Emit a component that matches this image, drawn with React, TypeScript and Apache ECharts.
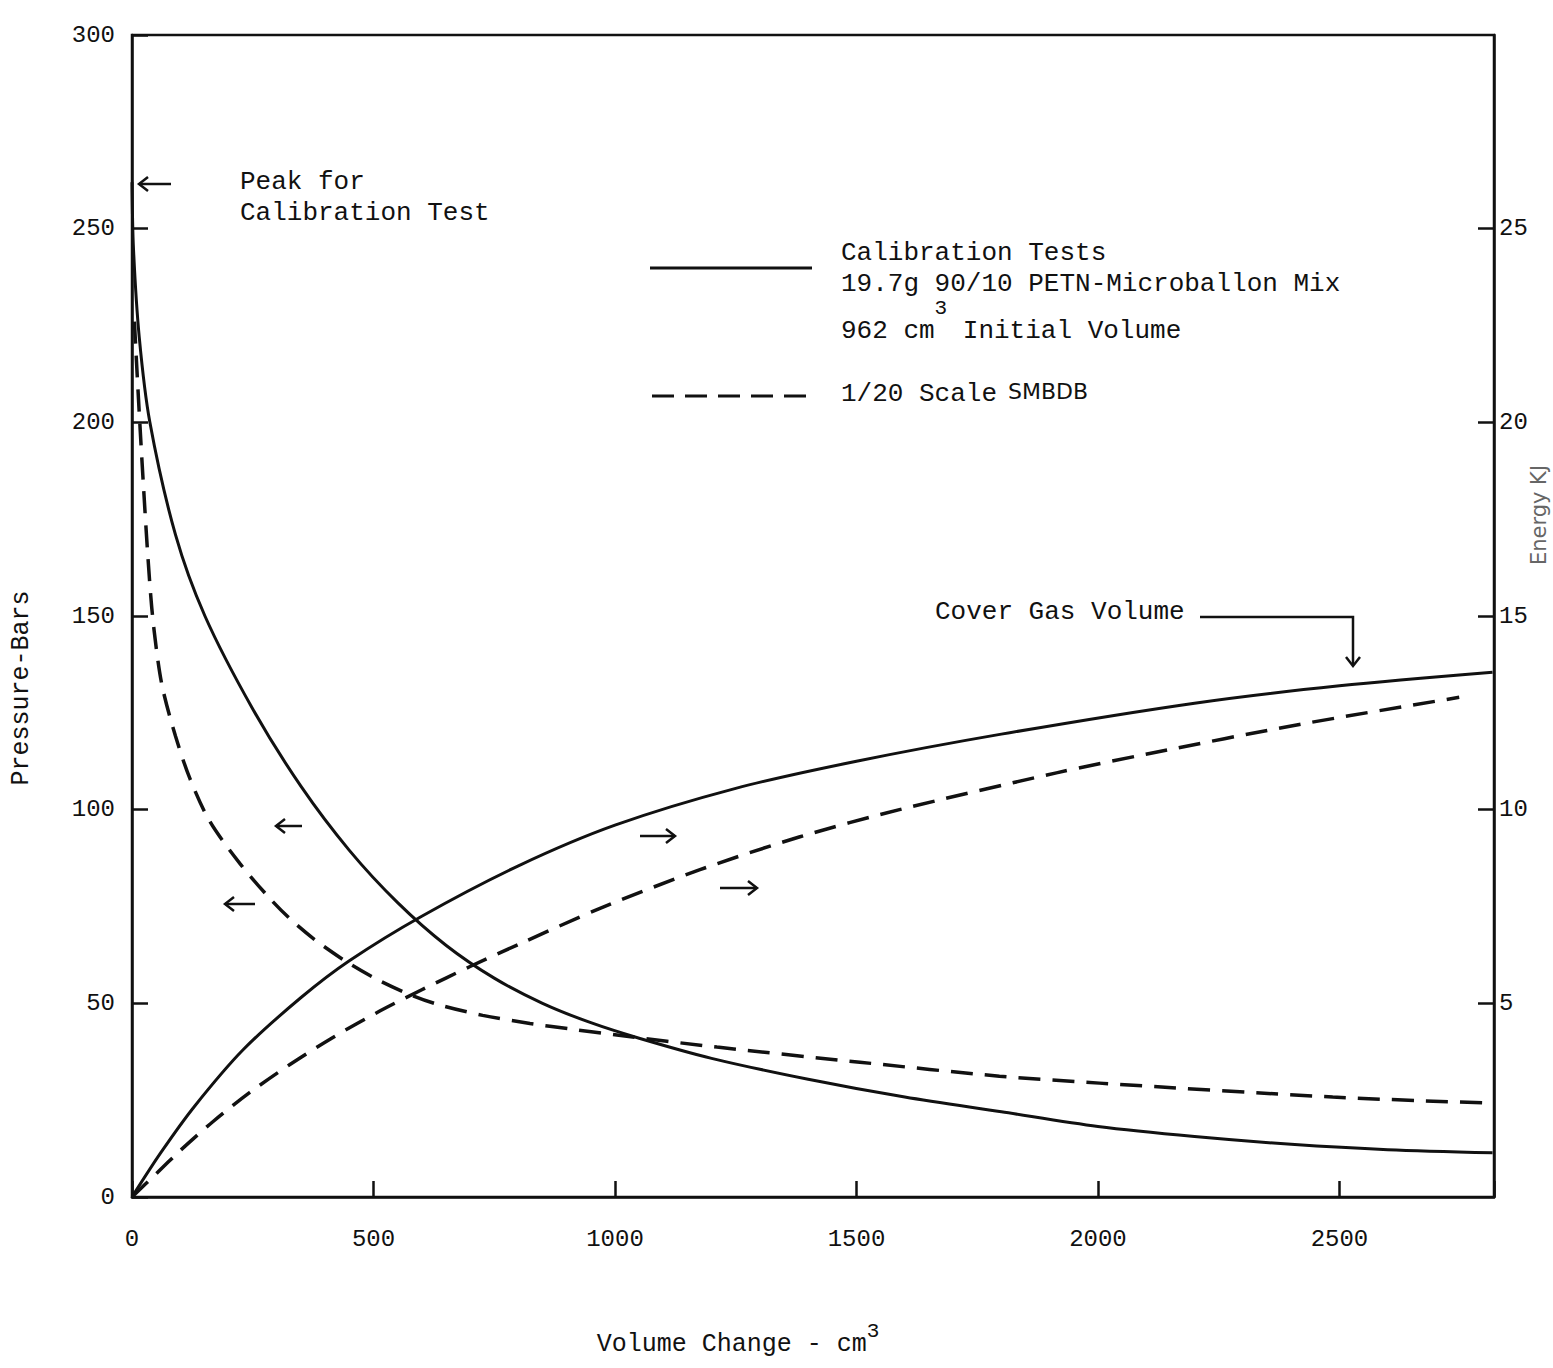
import React, { useEffect, useRef } from "react";
import * as echarts from "echarts";

// Volume change (cm^3) vs pressure (bars) / energy (kJ)
const calibrationPressure: number[][] = [
  [0, 262], [3, 245], [15, 222], [37, 200], [90, 171], [151, 150], [250, 126],
  [350, 106], [450, 89.5], [550, 76], [650, 65], [750, 56.5], [850, 50],
  [950, 45], [1050, 41], [1200, 35.8], [1400, 30.4], [1600, 25.8],
  [1800, 22], [2000, 18.2], [2200, 15.6], [2400, 13.6], [2600, 12.2],
  [2817, 11.4],
];
const smbdbPressure: number[][] = [
  [5, 226], [10, 214], [17, 198], [24, 183], [32, 167], [41, 152], [52, 140],
  [64, 131], [90, 119], [120, 108], [161, 97], [224, 86], [286, 77],
  [330, 71.5], [383, 66], [447, 60.5], [507, 56.2], [569, 52.6], [631, 49.8],
  [726, 46.9], [824, 44.8], [906, 43.4], [1004, 41.8], [1211, 38.7],
  [1507, 34.8], [1796, 31.2], [2003, 29.4], [2486, 25.8], [2796, 24.3],
];
const calibrationEnergy: number[][] = [
  [0, 0], [60, 1.15], [130, 2.35], [230, 3.8], [350, 5.15], [450, 6.1],
  [600, 7.25], [800, 8.55], [1000, 9.6], [1250, 10.55], [1500, 11.25],
  [1800, 11.95], [2200, 12.75], [2500, 13.2], [2817, 13.55],
];
const smbdbEnergy: number[][] = [
  [0, 0], [50, 0.6], [100, 1.2], [168, 1.95], [244, 2.7], [327, 3.42],
  [416, 4.12], [513, 4.8], [600, 5.35], [700, 5.95], [800, 6.52],
  [969, 7.45], [1176, 8.45], [1383, 9.3], [1589, 10.0], [1914, 10.95],
  [2107, 11.45], [2417, 12.2], [2748, 12.9],
];

const seriesNames = ["Calibration Tests", "1/20 Scale SMBDB"];
const legendLines = [
  "Calibration Tests",
  "19.7g 90/10 PETN-Microballon Mix",
];
const rightAxisName = "Energy KJ";

const MONO = "'Liberation Mono', 'DejaVu Sans Mono', monospace";
const INK = "#111";
const W = 1553;
const H = 1368;

function arrow(tipX: number, tipY: number, dir: "left" | "right" | "down", len: number) {
  const h = 9;
  const w = 7;
  let shaft: number[][];
  let head: number[][];
  if (dir === "left") {
    shaft = [[tipX, tipY], [tipX + len, tipY]];
    head = [[tipX + h, tipY - w], [tipX, tipY], [tipX + h, tipY + w]];
  } else if (dir === "right") {
    shaft = [[tipX - len, tipY], [tipX, tipY]];
    head = [[tipX - h, tipY - w], [tipX, tipY], [tipX - h, tipY + w]];
  } else {
    shaft = [[tipX, tipY - len], [tipX, tipY]];
    head = [[tipX - w, tipY - h], [tipX, tipY], [tipX + w, tipY - h]];
  }
  const st = { stroke: INK, lineWidth: 2.5, fill: "none" };
  return [
    { type: "polyline", shape: { points: shaft }, style: st, silent: true },
    { type: "polyline", shape: { points: head }, style: st, silent: true },
  ];
}

function monoText(text: string, x: number, y: number, extra: any = {}) {
  return {
    type: "text",
    x,
    y,
    silent: true,
    style: {
      text,
      fontFamily: MONO,
      fontSize: 26,
      fill: INK,
      align: "left",
      verticalAlign: "middle",
      ...extra,
    },
  };
}

export default function App() {
  const ref = useRef<HTMLDivElement>(null);

  useEffect(() => {
    if (!ref.current) return;
    const chart = echarts.init(ref.current, undefined, { renderer: "svg", width: W, height: H });

    const axisLine = { lineStyle: { color: INK, width: 2.5 } };
    const axisTick = { inside: true, length: 16, lineStyle: { color: INK, width: 2.5 } };
    const labelStyle = { color: INK, fontFamily: MONO, fontSize: 24 };

    const graphic: any[] = [
      monoText("Peak for", 240, 182),
      monoText("Calibration Test", 240, 213),
      ...arrow(139, 184, "left", 32),
      ...arrow(276, 826, "left", 26),
      ...arrow(225, 904, "left", 30),
      ...arrow(675, 836, "right", 35),
      ...arrow(757, 888, "right", 37),
      monoText("Cover Gas Volume", 935, 612),
      {
        type: "polyline",
        silent: true,
        shape: { points: [[1200, 617], [1353, 617], [1353, 664]] },
        style: { stroke: INK, lineWidth: 2.5, fill: "none" },
      },
      ...arrow(1353, 666, "down", 0),
      // legend
      {
        type: "line",
        silent: true,
        shape: { x1: 650, y1: 268, x2: 812, y2: 268 },
        style: { stroke: INK, lineWidth: 3 },
      },
      monoText(legendLines[0], 841, 253),
      monoText(legendLines[1], 841, 284),
      {
        type: "text",
        x: 841,
        y: 331,
        silent: true,
        style: {
          text: "962 cm{sup|3} Initial Volume",
          fontFamily: MONO,
          fontSize: 26,
          fill: INK,
          align: "left",
          verticalAlign: "middle",
          rich: {
            sup: { fontFamily: MONO, fontSize: 21, fill: INK, padding: [0, 0, 46, 0] },
          },
        },
      },
      {
        type: "line",
        silent: true,
        shape: { x1: 652, y1: 396, x2: 808, y2: 396 },
        style: { stroke: INK, lineWidth: 3, lineDash: [22, 11] },
      },
      monoText("1/20 Scale", 841, 394),
      {
        type: "text",
        x: 1008,
        y: 391,
        silent: true,
        style: {
          text: "SMBDB",
          fontFamily: "'DejaVu Sans', sans-serif",
          fontSize: 22,
          fill: INK,
          align: "left",
          verticalAlign: "middle",
        },
      },
      // right axis title (rotated, reads bottom to top)
      {
        type: "text",
        x: 1539,
        y: 515,
        rotation: Math.PI / 2,
        silent: true,
        style: {
          text: rightAxisName,
          fontFamily: "'DejaVu Sans', sans-serif",
          fontSize: 21,
          fill: "#666",
          align: "center",
          verticalAlign: "middle",
        },
      },
    ];

    const lineCommon = {
      type: "line",
      showSymbol: false,
      smooth: 0.3,
      z: 3,
    };

    chart.setOption({
      animation: false,
      backgroundColor: "#ffffff",
      grid: {
        left: 132,
        right: 59,
        top: 35,
        bottom: 171,
        show: true,
        borderColor: INK,
        borderWidth: 2.5,
        containLabel: false,
        outerBoundsMode: "none",
      },
      xAxis: {
        type: "value",
        min: 0,
        max: 2820,
        interval: 500,
        axisLine,
        axisTick,
        splitLine: { show: false },
        axisLabel: {
          ...labelStyle,
          margin: 30,
          formatter: (v: number) => (v > 2500 ? "" : String(v)),
        },
        name: "Volume Change - cm{sup|3}",
        nameLocation: "middle",
        nameGap: 124,
        nameTextStyle: {
          color: INK,
          fontFamily: MONO,
          fontSize: 25,
          padding: [0, 150, 0, 0],
          rich: {
            sup: { fontFamily: MONO, fontSize: 21, color: INK, padding: [0, 0, 26, 0] },
          },
        },
      },
      yAxis: [
        {
          type: "value",
          position: "left",
          min: 0,
          max: 300,
          interval: 50,
          axisLine: { show: true, ...axisLine },
          axisTick,
          splitLine: { show: false },
          axisLabel: { ...labelStyle, margin: 17 },
          name: "Pressure-Bars",
          nameLocation: "middle",
          nameGap: 98,
          nameRotate: 90,
          nameTextStyle: {
            color: INK,
            fontFamily: MONO,
            fontSize: 25,
            padding: [0, 144, 0, 0],
          },
        },
        {
          type: "value",
          position: "right",
          min: 0,
          max: 30,
          interval: 5,
          axisLine: { show: true, ...axisLine },
          axisTick,
          splitLine: { show: false },
          axisLabel: {
            ...labelStyle,
            margin: 5,
            showMinLabel: false,
            showMaxLabel: false,
            formatter: (v: number) => (v === 0 || v === 30 ? "" : String(v)),
          },
        },
      ],
      series: [
        {
          ...lineCommon,
          name: seriesNames[0],
          yAxisIndex: 0,
          data: calibrationPressure,
          lineStyle: { color: INK, width: 3 },
        },
        {
          ...lineCommon,
          name: seriesNames[1],
          yAxisIndex: 0,
          data: smbdbPressure,
          lineStyle: { color: INK, width: 3.5, type: [22, 12] },
        },
        {
          ...lineCommon,
          name: seriesNames[0] + " energy",
          yAxisIndex: 1,
          data: calibrationEnergy,
          lineStyle: { color: INK, width: 3 },
        },
        {
          ...lineCommon,
          name: seriesNames[1] + " energy",
          yAxisIndex: 1,
          data: smbdbEnergy,
          lineStyle: { color: INK, width: 3.5, type: [22, 12] },
        },
      ],
      graphic,
    });

    return () => chart.dispose();
  }, []);

  return (
    <div
      ref={ref}
      style={{ position: "absolute", left: 0, top: 0, width: W, height: H, background: "#fff" }}
    />
  );
}
